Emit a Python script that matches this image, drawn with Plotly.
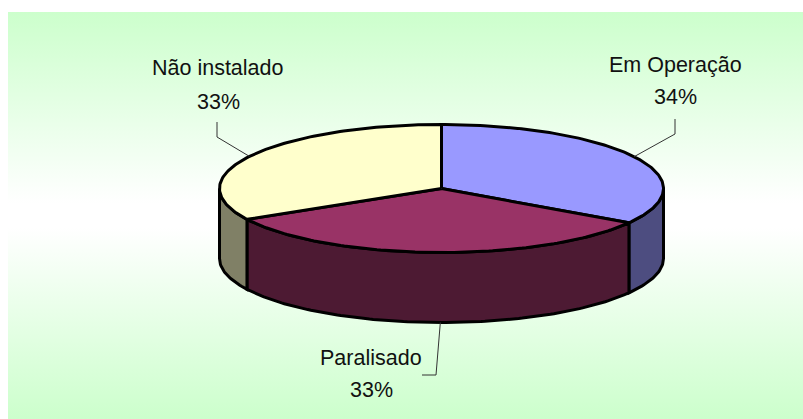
import math
import plotly.graph_objects as go

# Shares per installation status
categories = ["Em Operação", "Paralisado", "Não instalado"]
values = [34, 33, 33]
top_colors = ["#9999FF", "#993366", "#FFFFCC"]
side_colors = ["#4D4D80", "#4D1A33", "#808066"]

W, H = 803, 419
CX, CY, RX, RY, DEPTH = 441.5, 188.5, 222, 64, 70
EDGE = "#000000"
TEXT = "#111111"
FONT = "Liberation Sans"


def rim(theta_deg, drop=0):
    t = math.radians(theta_deg)
    return CX + RX * math.sin(t), CY - RY * math.cos(t) + drop


def arc(a0, a1, drop=0, step=1.0):
    n = max(2, int(abs(a1 - a0) / step) + 1)
    pts = [rim(a0 + (a1 - a0) * i / (n - 1), drop) for i in range(n)]
    return [p[0] for p in pts], [p[1] for p in pts]


def poly(xs, ys, fill, width=3):
    return go.Scatter(x=xs, y=ys, mode="lines", fill="toself", fillcolor=fill,
                      line=dict(color=EDGE, width=width), hoverinfo="skip",
                      showlegend=False)


total = sum(values)
bounds = [0]
for v in values:
    bounds.append(bounds[-1] + v / total * 360)

fig = go.Figure()

# Panel with a vertical green-white-green gradient
fig.add_trace(go.Scatter(
    x=[8, W, W, 8, 8], y=[12, 12, H, H, 12], mode="lines", fill="toself",
    line=dict(width=0), hoverinfo="skip", showlegend=False,
    fillgradient=dict(type="vertical", colorscale=[
        [0, "#CCFFCC"], [0.47, "#FFFFFF"], [0.53, "#FFFFFF"], [1, "#CCFFCC"]]),
))

# Visible walls: only the part of each slice between 90 and 270 degrees
for i in range(len(values)):
    a0, a1 = max(bounds[i], 90), min(bounds[i + 1], 270)
    if a1 <= a0:
        continue
    tx, ty = arc(a0, a1)
    bx, by = arc(a1, a0, DEPTH)
    fig.add_trace(poly(tx + bx + tx[:1], ty + by + ty[:1], side_colors[i]))

# Top faces
for i in range(len(values)):
    ax, ay = arc(bounds[i], bounds[i + 1])
    fig.add_trace(poly([CX] + ax + [CX], [CY] + ay + [CY], top_colors[i]))

# Leader lines start near each slice's mid angle and run to an elbow under the label
elbows = {
    "Em Operação": ([(675, 134), (675, 119)], -1.0),
    "Paralisado": ([(436, 375), (422, 375)], -1.5),
    "Não instalado": ([(217, 137), (217, 122)], -0.5),
}
for i, name in enumerate(categories):
    points, nudge = elbows[name]
    mid = (bounds[i] + bounds[i + 1]) / 2
    drop = DEPTH if 90 < mid < 270 else 0
    x0, y0 = rim(mid + nudge, drop)
    xs = [x0] + [p[0] for p in points]
    ys = [y0] + [p[1] for p in points]
    fig.add_trace(go.Scatter(x=xs, y=ys, mode="lines", hoverinfo="skip",
                             line=dict(color="#333333", width=1), showlegend=False))

# Two-line labels: name above, percentage below
label_pos = {
    "Em Operação": (675.5, 65, 97),
    "Paralisado": (371, 358, 390),
    "Não instalado": (218, 68, 102),
}
for name, v in zip(categories, values):
    x, y1, y2 = label_pos[name]
    for y, txt in ((y1, name), (y2, f"{round(v / total * 100)}%")):
        fig.add_annotation(x=x, y=y, text=txt, showarrow=False, xanchor="center",
                           yanchor="middle", font=dict(family=FONT, size=21.5, color=TEXT))

fig.update_layout(
    width=W, height=H, margin=dict(l=0, r=0, t=0, b=0),
    paper_bgcolor="#FFFFFF", plot_bgcolor="rgba(0,0,0,0)",
    xaxis=dict(range=[0, W], visible=False, fixedrange=True),
    yaxis=dict(range=[H, 0], visible=False, fixedrange=True),
    showlegend=False,
)
fig.write_html("out.html", config={"displayModeBar": False})
